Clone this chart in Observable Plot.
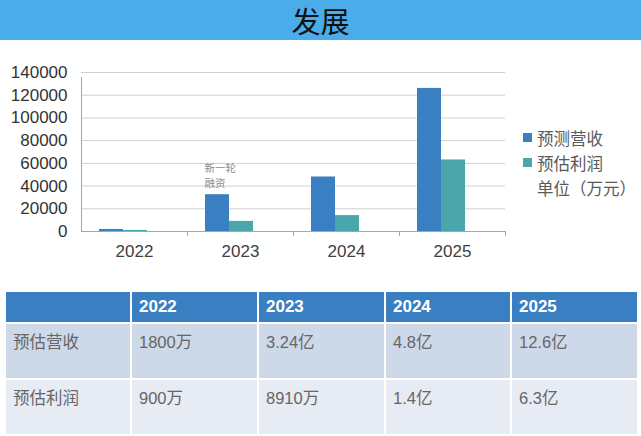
<!DOCTYPE html>
<html>
<head>
<meta charset="utf-8">
<script src="https://cdn.jsdelivr.net/npm/d3@7"></script>
<script src="https://cdn.jsdelivr.net/npm/@observablehq/plot@0.6"></script>
<style>
  html, body { margin: 0; padding: 0; background: #fff; }
  body { width: 641px; height: 436px; position: relative; overflow: hidden;
         font-family: "Liberation Sans", "Noto Sans CJK SC", sans-serif; }
  #title { position: absolute; left: 0; top: 0; width: 641px; height: 40px;
           background: #4aace8; color: #111; text-align: center;
           font-family: "Noto Sans CJK SC", sans-serif; font-size: 29px; line-height: 40px; }
  #chart { position: absolute; left: 0; top: 41px; }
  #legend { position: absolute; left: 523px; top: 125px; font-family: "Noto Sans CJK SC", sans-serif;
            font-size: 16.5px; color: #595959; }
  #legend .row { height: 25px; display: flex; align-items: center; }
  #legend .sw { width: 9px; height: 9px; margin-right: 5px; }
  #legend .nosw { width: 14px; }
  #tbl { position: absolute; left: 4px; top: 290px; border-collapse: collapse; }
  #tbl td, #tbl th { border: 2px solid #fff; padding: 0 0 0 7px; text-align: left;
                     font-family: "Liberation Sans", "Noto Sans CJK SC", sans-serif; }
  #tbl th { background: #3a7fc2; color: #fff; font-weight: bold; font-size: 17px; height: 30px; }
  #tbl td { color: #666; font-size: 16.5px; vertical-align: top; padding-top: 5px; height: 49px; }
  #tbl tr.r1 td { background: #cdd8e8; }
  #tbl tr.r2 td { background: #e7ebf3; }
</style>
</head>
<body>
<div id="title">发展</div>
<div id="chart"></div>
<div id="legend"></div>
<table id="tbl"></table>
<script>
const years = ["2022", "2023", "2024", "2025"];
const revenue = [1800, 32400, 48000, 126000];   // 预测营收 (万元)
const profit = [900, 8910, 14000, 63000];       // 预估利润 (万元)
const yTicks = [0, 20000, 40000, 60000, 80000, 100000, 120000, 140000];
const seriesNames = ["预测营收", "预估利润"];
const seriesColors = ["#3a7fc2", "#4aa6aa"];
const unitLabel = "单位（万元）";
const annotation = "新一轮\n融资";
const rowLabels = ["预估营收", "预估利润"];
const revenueText = ["1800万", "3.24亿", "4.8亿", "12.6亿"];
const profitText = ["900万", "8910万", "1.4亿", "6.3亿"];

const revData = years.map((y, i) => ({year: y, value: revenue[i]}));
const proData = years.map((y, i) => ({year: y, value: profit[i]}));

const half = 53; // half band width (424 / 4 / 2)

const chart = Plot.plot({
  width: 520,
  height: 220,
  marginTop: 31,
  marginBottom: 30,
  marginLeft: 81,
  marginRight: 15,
  style: {fontFamily: "Liberation Sans, sans-serif", background: "transparent"},
  x: {domain: years, padding: 0, label: null},
  y: {domain: [0, 140000], label: null},
  marks: [
    Plot.gridY(yTicks, {stroke: "#d0d0d0", strokeOpacity: 1}),
    Plot.barY(revData, {x: "year", y: "value", fill: seriesColors[0], insetLeft: 18, insetRight: 64}),
    Plot.barY(proData, {x: "year", y: "value", fill: seriesColors[1], insetLeft: 42, insetRight: 40}),
    Plot.ruleY([0], {stroke: "#a6a6a6"}),
    Plot.ruleX([years[0]], {dx: -half, y1: 0, y2: 140000, insetBottom: -5, stroke: "#a6a6a6"}),
    Plot.ruleX(years.slice(1), {dx: -half, y1: 0, y2: 0, insetBottom: -5, stroke: "#a6a6a6"}),
    Plot.ruleX([years[3]], {dx: half, y1: 0, y2: 0, insetBottom: -5, stroke: "#a6a6a6"}),
    Plot.text([revData[1]], {x: "year", y: "value", text: () => annotation, textAnchor: "start",
      lineAnchor: "bottom", dx: -36, dy: -8, fontSize: 10.5, fill: "#8a8a8a", lineHeight: 1.38,
      fontFamily: "Noto Sans CJK SC, sans-serif"}),
    Plot.axisY(yTicks, {tickSize: 0, tickPadding: 14, tickFormat: d3.format("d"), fontSize: 17, fill: "#333", label: null}),
    Plot.axisX({tickSize: 0, tickPadding: 13, fontSize: 17, fill: "#404040", label: null})
  ]
});
document.getElementById("chart").appendChild(chart);

// legend
const legend = document.getElementById("legend");
seriesNames.forEach((n, i) => {
  const row = document.createElement("div");
  row.className = "row";
  row.innerHTML = `<span class="sw" style="background:${seriesColors[i]}"></span><span>${n}</span>`;
  legend.appendChild(row);
});
const unitRow = document.createElement("div");
unitRow.className = "row";
unitRow.innerHTML = `<span class="nosw"></span><span>${unitLabel}</span>`;
legend.appendChild(unitRow);

// table
const tbl = document.getElementById("tbl");
const colW = [126, 127, 127, 126, 127];
let html = "<tr>" + ["", ...years].map((h, i) => `<th style="width:${colW[i] - 9}px">${h}</th>`).join("") + "</tr>";
[revenueText, profitText].forEach((vals, r) => {
  html += `<tr class="r${r + 1}">` + [rowLabels[r], ...vals].map(v => `<td>${v}</td>`).join("") + "</tr>";
});
tbl.innerHTML = html;
</script>
</body>
</html>
